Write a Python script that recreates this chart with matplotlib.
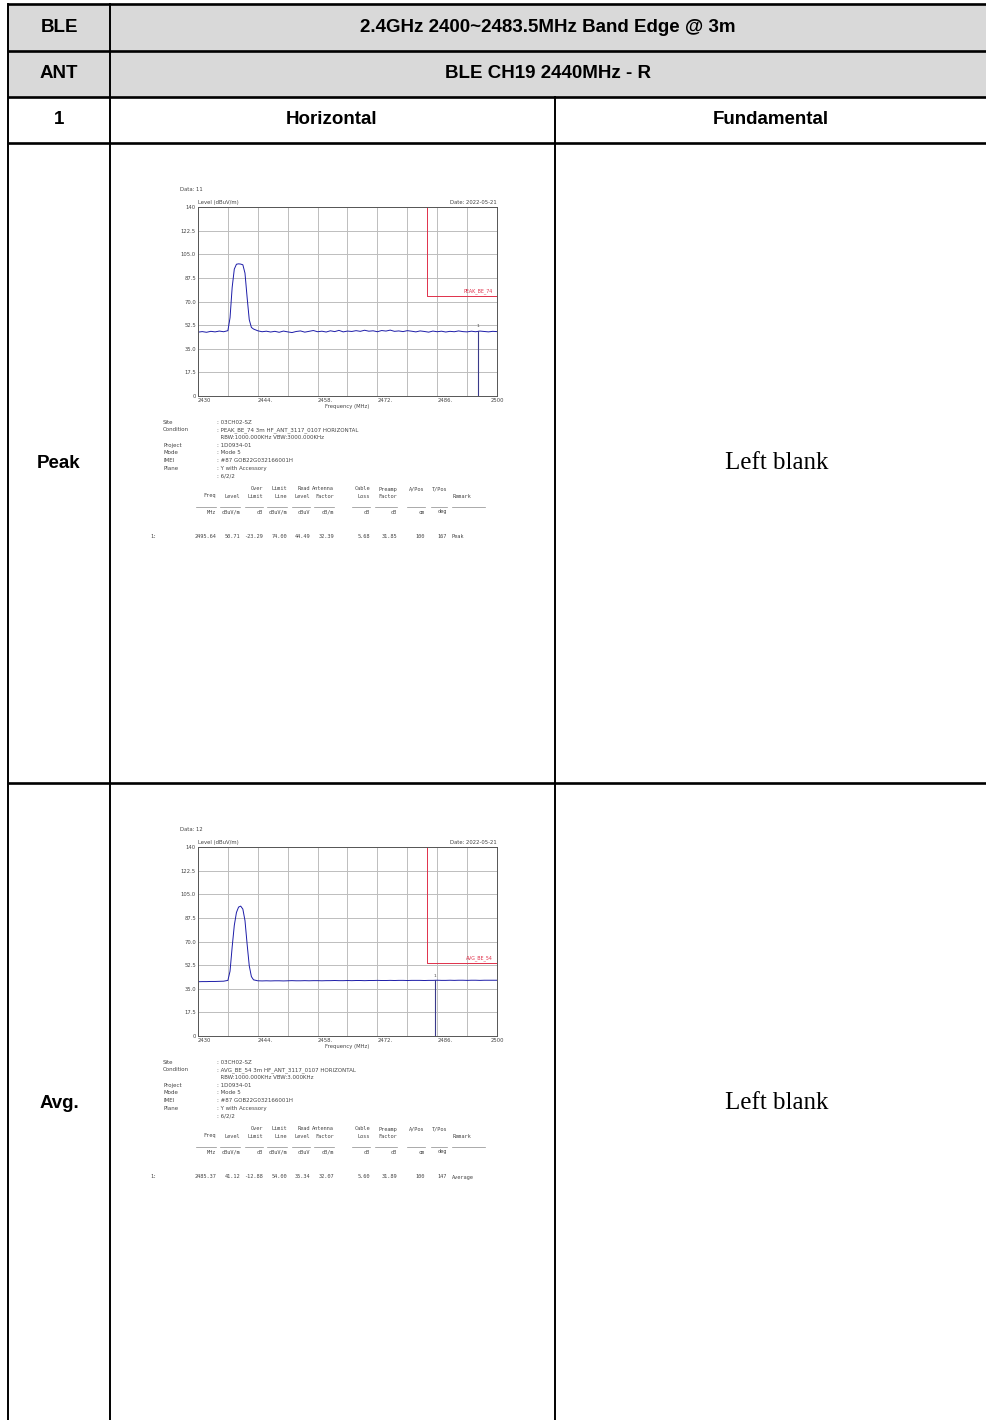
import matplotlib.pyplot as plt
from matplotlib.patches import Rectangle

W, H = 987, 1420

# ---- table text ----
row_labels = ['BLE', 'ANT', '1', 'Peak', 'Avg.']
title_text = '2.4GHz 2400~2483.5MHz Band Edge @ 3m'
ant_text = 'BLE CH19 2440MHz - R'
col_heads = ['Horizontal', 'Fundamental']
blank_text = 'Left blank'

# ---- spectrum axes ----
y_ticks = [0, 17.5, 35.0, 52.5, 70.0, 87.5, 105.0, 122.5, 140]
y_tick_labels = ['0', '17.5', '35.0', '52.5', '70.0', '87.5', '105.0', '122.5', '140']
x_ticks = [2430, 2444, 2458, 2472, 2486, 2500]
x_tick_labels = ['2430', '2444.', '2458.', '2472.', '2486.', '2500']
x_grid = [2437, 2451, 2465, 2479, 2493]

# ---- traces ----
freq = [2430, 2431, 2432, 2433, 2434, 2435, 2436, 2437, 2437.5, 2438, 2438.5,
        2439, 2439.5, 2440, 2440.5, 2441, 2441.5, 2442, 2442.5, 2443,
        2444, 2445, 2446, 2447, 2448, 2449, 2450, 2451, 2452, 2453,
        2454, 2455, 2456, 2457, 2458, 2459, 2460, 2461, 2462, 2463,
        2464, 2465, 2466, 2467, 2468, 2469, 2470, 2471, 2472, 2473,
        2474, 2475, 2476, 2477, 2478, 2479, 2480, 2481, 2482, 2483,
        2484, 2485, 2486, 2487, 2488, 2489, 2490, 2491, 2492, 2493,
        2494, 2495, 2496, 2497, 2498, 2499, 2500]
peak_level = [47.3, 47.7, 47.2, 47.9, 47.5, 48.1, 47.6, 48.4, 58.0, 80.5, 94.0,
              97.6, 97.9, 97.7, 97.2, 91.0, 73.0, 56.5, 50.8, 49.6,
              48.3, 47.6, 48.0, 47.4, 47.9, 47.2, 48.1, 47.5, 47.0, 47.8,
              48.2, 47.3, 47.9, 48.5, 47.6, 48.0, 47.4, 48.3, 47.7, 48.6,
              47.5, 48.1, 47.8, 48.4, 47.9, 48.7, 48.0, 48.3, 47.6, 48.5,
              48.1, 48.8, 47.9, 48.2, 47.7, 48.4, 48.0, 47.5, 48.2, 47.8,
              47.3, 48.1, 47.6, 48.0, 47.4, 47.9, 47.6, 48.2, 47.7, 47.5,
              48.0, 47.6, 48.1, 47.8, 47.5, 47.9, 47.7]
avg_level = [40.2, 40.3, 40.3, 40.4, 40.4, 40.5, 40.6, 41.2, 48.0, 66.0, 82.0,
             91.5, 95.5, 96.2, 94.0, 85.5, 68.0, 52.0, 44.0, 41.6,
             40.9, 40.8, 40.9, 40.8, 40.9, 40.9, 40.8, 40.9, 41.0, 40.9,
             40.9, 41.0, 40.9, 41.0, 41.0, 40.9, 41.0, 41.0, 41.1, 41.0,
             41.0, 41.1, 41.0, 41.1, 41.1, 41.0, 41.1, 41.1, 41.2, 41.1,
             41.1, 41.2, 41.1, 41.2, 41.2, 41.1, 41.2, 41.2, 41.2, 41.1,
             41.2, 41.2, 41.3, 41.2, 41.2, 41.3, 41.2, 41.3, 41.3, 41.2,
             41.3, 41.3, 41.2, 41.3, 41.3, 41.3, 41.3]

band_edge = 2483.5
limits = [74, 54]
limit_names = ['PEAK_BE_74', 'AVG_BE_54']
marker_freq = [2495.64, 2485.37]
data_names = ['Data: 11', 'Data: 12']
date_text = 'Date: 2022-05-21'

info_keys = ['Site', 'Condition', '', 'Project', 'Mode', 'IMEI', 'Plane', '']
info_peak = [': 03CH02-SZ', ': PEAK_BE_74 3m HF_ANT_3117_0107 HORIZONTAL',
             '  RBW:1000.000KHz VBW:3000.000KHz', ': 1D0934-01', ': Mode 5',
             ': #87 GOB22G032166001H', ': Y with Accessory', ': 6/2/2']
info_avg = [': 03CH02-SZ', ': AVG_BE_54 3m HF_ANT_3117_0107 HORIZONTAL',
            '  RBW:1000.000KHz VBW:3.000KHz', ': 1D0934-01', ': Mode 5',
            ': #87 GOB22G032166001H', ': Y with Accessory', ': 6/2/2']

head1 = ['', '', 'Over', 'Limit', 'Read', 'Antenna', 'Cable', 'Preamp', 'A/Pos', 'T/Pos']
head2 = ['Freq', 'Level', 'Limit', 'Line', 'Level', 'Factor', 'Loss', 'Factor', '', '']
units = ['MHz', 'dBuV/m', 'dB', 'dBuV/m', 'dBuV', 'dB/m', 'dB', 'dB', 'cm', 'deg']
row_peak = ['2495.64', '50.71', '-23.29', '74.00', '44.49', '32.39', '5.68', '31.85', '100', '167']
row_avg = ['2485.37', '41.12', '-12.88', '54.00', '35.34', '32.07', '5.60', '31.89', '100', '147']
remarks = ['Peak', 'Average']
col_right = [216, 240, 263, 287, 310, 334, 370, 397, 425, 447]
col_width = [20, 20, 18, 20, 18, 20, 18, 22, 18, 16]

fig = plt.figure(figsize=(W / 100, H / 100), dpi=100)
bg = fig.add_axes([0, 0, 1, 1])
bg.set_xlim(0, W)
bg.set_ylim(H, 0)
bg.axis('off')

# grey header band
bg.add_patch(Rectangle((8, 4), W - 8, 93, color='#d9d9d9', zorder=0))

# table rules
for y in [4, 51, 97, 143, 783]:
    bg.plot([8, W], [y, y], color='black', lw=1.9, solid_capstyle='butt')
bg.plot([8, 8], [4, H], color='black', lw=1.4)
bg.plot([110, 110], [4, H], color='black', lw=1.4)
bg.plot([555, 555], [97, H], color='black', lw=1.4)

hfont = dict(family='Liberation Sans', weight='bold', size=13.5, ha='center', va='center')
bg.text(59, 28, row_labels[0], **hfont)
bg.text(548, 28, title_text, **hfont)
bg.text(59, 74, row_labels[1], **hfont)
bg.text(548, 74, ant_text, **hfont)
bg.text(59, 120, row_labels[2], **hfont)
bg.text(332, 120, col_heads[0], **hfont)
bg.text(771, 120, col_heads[1], **hfont)
bg.text(59, 463, row_labels[3], **hfont)
bg.text(59, 1103, row_labels[4], **hfont)
for yc in [463, 1103]:
    bg.text(777, yc, blank_text, family='Liberation Serif', size=18, ha='center', va='center')

txt_c = '#444444'
levels = [peak_level, avg_level]
infos = [info_peak, info_avg]
rows = [row_peak, row_avg]

for i in range(2):
    dy = 640 * i
    ax = fig.add_axes([198 / W, 1 - (396 + dy) / H, 299 / W, 189 / H])
    ax.set_xlim(2430, 2500)
    ax.set_ylim(0, 140)
    ax.set_xticks(x_ticks)
    ax.set_xticklabels(x_tick_labels)
    for lab in ax.get_xticklabels()[:-1]:
        lab.set_horizontalalignment('left')
    ax.set_yticks(y_ticks)
    ax.set_yticklabels(y_tick_labels)
    ax.set_xticks(x_grid, minor=True)
    ax.tick_params(which='both', length=0, labelsize=3.8, pad=1.5, colors=txt_c)
    ax.grid(True, which='both', color='#bdbdbd', lw=0.7)
    for s in ax.spines.values():
        s.set_color('#555555')
        s.set_linewidth(0.7)
    ax.set_xlabel('Frequency (MHz)', size=3.8, color=txt_c, labelpad=1)
    ax.plot(freq, levels[i], color='#1c1ca8', lw=0.7)
    ax.plot([band_edge, band_edge, 2500], [140, limits[i], limits[i]], color='#e0304a', lw=0.7)
    ax.text(2499, limits[i] + 1.5, limit_names[i], color='#e0304a', size=3.4, ha='right', va='bottom')
    mk = marker_freq[i]
    mlev = levels[i][min(range(len(freq)), key=lambda k: abs(freq[k] - mk))]
    ax.plot([mk, mk], [0, mlev], color='#3a3a8a', lw=0.8)
    ax.text(mk, mlev + 2, '1', size=3.2, ha='center', va='bottom', color=txt_c)
    ax.text(0.0, 1.01, 'Level (dBuV/m)', transform=ax.transAxes, size=3.8, color=txt_c, va='bottom')
    ax.text(1.0, 1.01, date_text, transform=ax.transAxes, size=3.8, color=txt_c, va='bottom', ha='right')
    ax.text(-0.06, 1.08, data_names[i], transform=ax.transAxes, size=3.8, color=txt_c, va='bottom')

    # info block
    for k in range(len(info_keys)):
        y = 422 + dy + 7.7 * k
        bg.text(163, y, info_keys[k], size=4, color=txt_c, va='center')
        bg.text(217, y, infos[i][k], size=4, color=txt_c, va='center')

    # result table
    mono = dict(family='DejaVu Sans Mono', size=3.8, color=txt_c, ha='right', va='center')
    for c in range(len(col_right)):
        xr = col_right[c]
        bg.text(xr, 489 + dy, head1[c], **mono)
        bg.text(xr, 496 + dy, head2[c], **mono)
        bg.plot([xr - col_width[c], xr], [507 + dy, 507 + dy], color='#888888', lw=0.5)
        bg.text(xr, 512 + dy, units[c], **mono)
        bg.text(xr, 537 + dy, rows[i][c], **mono)
    bg.text(453, 496 + dy, 'Remark', family='DejaVu Sans Mono', size=3.8, color=txt_c, va='center')
    bg.plot([452, 485], [507 + dy, 507 + dy], color='#888888', lw=0.5)
    bg.text(452, 537 + dy, remarks[i], family='DejaVu Sans Mono', size=3.8, color=txt_c, va='center')
    bg.text(150, 537 + dy, '1:', family='DejaVu Sans Mono', size=3.8, color=txt_c, va='center')

fig.savefig('out.png', dpi=100)
